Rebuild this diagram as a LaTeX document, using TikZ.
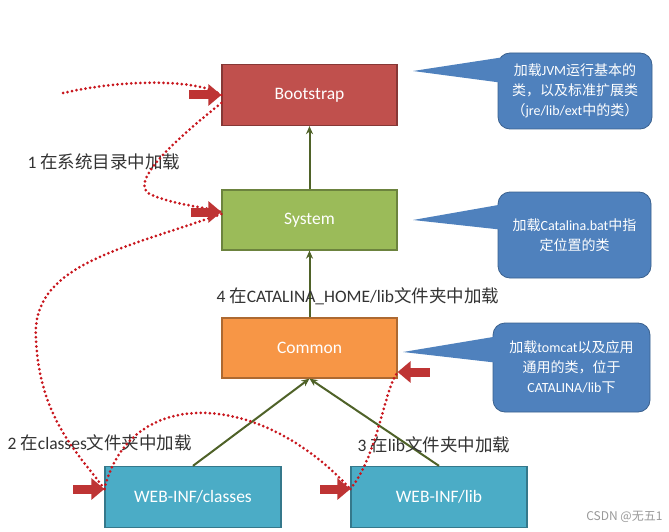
\documentclass[tikz,border=0pt]{standalone}
\usepackage{fontspec}
\setmainfont{Carlito}
\newfontfamily\zhfont{Noto Sans CJK SC}
\newcommand{\zh}[1]{{\zhfont #1}}
\usetikzlibrary{arrows.meta}
\definecolor{bootred}{HTML}{C0504D}
\definecolor{sysgreen}{HTML}{9BBB59}
\definecolor{comorange}{HTML}{F79646}
\definecolor{webblue}{HTML}{4BACC6}
\definecolor{noteblue}{HTML}{4F81BD}
\definecolor{linegreen}{HTML}{4F6228}
\definecolor{pushred}{HTML}{BE3434}
\definecolor{trailred}{HTML}{C8161D}
\definecolor{textgray}{HTML}{333333}
\tikzset{
  box/.style={draw=#1!70!black, fill=#1, line width=1.3pt, minimum width=175pt,
    minimum height=61pt, text=white, font=\fontsize{17.5}{20}\selectfont},
  note/.style={fill=noteblue, draw=noteblue!75!black, line width=0.8pt,
    rounded corners=12pt, text=white, align=center, inner sep=4pt,
    font=\fontsize{14}{20}\selectfont},
  load/.style={-{Stealth[length=8pt,width=7pt]}, draw=linegreen, line width=2pt},
  push/.style={-{Triangle[length=13pt 0,width=21pt 0]}, draw=pushred, line width=9pt},
  trail/.style={draw=trailred, line width=3pt, line cap=round,
    dash pattern=on 0pt off 4.6pt},
  stage/.style={anchor=west, text=textgray, font=\fontsize{17.5}{20}\selectfont},
}
\begin{document}
\begin{tikzpicture}[x=1pt,y=-1pt]
\useasboundingbox[fill=white] (0,0) rectangle (669,532);
% class loader boxes
\node[box=bootred] (boot) at (309.5,95) {Bootstrap};
\node[box=sysgreen,minimum height=60pt] (sys) at (309.5,220) {System};
\node[box=comorange,minimum height=60pt] (com) at (309.5,348) {Common};
\node[box=webblue,minimum width=176pt] (cls) at (193,497) {WEB-INF/classes};
\node[box=webblue,minimum width=176pt] (lib) at (439,497) {WEB-INF/lib};
% parent links
\draw[load] (sys.north) -- (boot.south);
\draw[load] (com.north) -- (sys.south);
\draw[load] (cls.north) -- (com.south);
\draw[load] (lib.north) -- (com.south);
% callouts
\node[note,minimum width=154pt,minimum height=76pt] (n1) at (575,91)
  {\zh{加载}JVM\zh{运行基本的}\\\zh{类，以及标准扩展类}\\\zh{（}jre/lib/ext\zh{中的类）}};
\node[note,minimum width=153pt,minimum height=86pt] (n2) at (574.5,235)
  {\zh{加载}Catalina.bat\zh{中指}\\\zh{定位置的类}};
\node[note,minimum width=157pt,minimum height=89pt] (n3) at (571.5,367.5)
  {\zh{加载}tomcat\zh{以及应用}\\\zh{通用的类，位于}\\CATALINA/lib\zh{下}};
\coordinate (t1) at (413,71);
\coordinate (t2) at (413,220);
\coordinate (t3) at (403,352);
\fill[noteblue] (t1) -- ([xshift=3pt,yshift=-5pt]n1.north west) -- ([xshift=3pt,yshift=-30pt]n1.north west) -- cycle;
\fill[noteblue] (t2) -- ([xshift=3pt,yshift=-13pt]n2.north west) -- ([xshift=3pt,yshift=-38pt]n2.north west) -- cycle;
\fill[noteblue] (t3) -- ([xshift=3pt,yshift=-14pt]n3.north west) -- ([xshift=3pt,yshift=-40pt]n3.north west) -- cycle;
% steps
\node[stage] (s1) at (24,162) {1 \zh{在系统目录中加载}};
\node[stage] (s4) at (213,296) {4 \zh{在}CATALINA\_HOME/lib\zh{文件夹中加载}};
\node[stage] (s2) at (4,443) {2 \zh{在}classes\zh{文件夹中加载}};
\node[stage] (s3) at (354,445) {3 \zh{在}lib\zh{文件夹中加载}};
% search order
\coordinate (start) at (63,93);
\draw[trail] (start) .. controls (130,78) and (200,80) .. (boot.west);
\draw[trail] ([yshift=-8pt]boot.west) .. controls (175,140) and (125,185) .. (152,195)
  .. controls (175,205) and (200,206) .. ([yshift=8pt]sys.west);
\draw[trail] ([yshift=6pt]sys.west) .. controls (120,250) and (30,265) .. (36,340)
  .. controls (40,420) and (80,455) .. ([yshift=8pt]cls.west);
\draw[trail] ([yshift=8pt]cls.west) .. controls (130,385) and (260,390) .. ([yshift=8pt]lib.west);
\draw[trail] ([yshift=8pt]lib.west) .. controls (378,455) and (384,390) .. ([yshift=-24pt]com.east);
% entry arrows
\draw[push] ([xshift=-32pt]boot.west) -- (boot.west);
\draw[push] ([xshift=-30pt,yshift=8pt]sys.west) -- ([yshift=8pt]sys.west);
\draw[push] ([xshift=32pt,yshift=-24pt]com.east) -- ([yshift=-24pt]com.east);
\draw[push] ([xshift=-31pt,yshift=8pt]cls.west) -- ([yshift=8pt]cls.west);
\draw[push] ([xshift=-30pt,yshift=8pt]lib.west) -- ([yshift=8pt]lib.west);
\node[anchor=east,text=gray!80,font=\zhfont\fontsize{12}{14}\selectfont] (mark) at (666,517) {CSDN @无五1};
\end{tikzpicture}
\end{document}
